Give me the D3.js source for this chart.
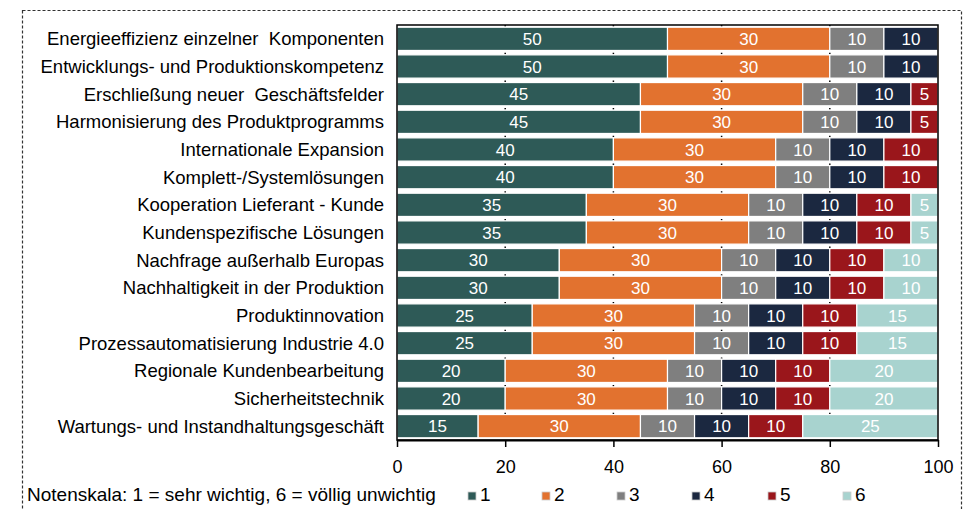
<!DOCTYPE html>
<html>
<head>
<meta charset="utf-8">
<script src="https://cdn.jsdelivr.net/npm/d3@7/dist/d3.min.js"></script>
<style>
  body { margin: 0; background: #fff; }
  text { font-family: "Liberation Sans", Arial, sans-serif; }
</style>
</head>
<body>
<div id="chart"></div>
<script>
// Themen und Notenverteilung (Prozent)
var categories = [
  "Energieeffizienz einzelner  Komponenten",
  "Entwicklungs- und Produktionskompetenz",
  "Erschließung neuer  Geschäftsfelder",
  "Harmonisierung des Produktprogramms",
  "Internationale Expansion",
  "Komplett-/Systemlösungen",
  "Kooperation Lieferant - Kunde",
  "Kundenspezifische Lösungen",
  "Nachfrage außerhalb Europas",
  "Nachhaltigkeit in der Produktion",
  "Produktinnovation",
  "Prozessautomatisierung Industrie 4.0",
  "Regionale Kundenbearbeitung",
  "Sicherheitstechnik",
  "Wartungs- und Instandhaltungsgeschäft"
];
var note1 = [50, 50, 45, 45, 40, 40, 35, 35, 30, 30, 25, 25, 20, 20, 15];
var note2 = [30, 30, 30, 30, 30, 30, 30, 30, 30, 30, 30, 30, 30, 30, 30];
var note3 = [10, 10, 10, 10, 10, 10, 10, 10, 10, 10, 10, 10, 10, 10, 10];
var note4 = [10, 10, 10, 10, 10, 10, 10, 10, 10, 10, 10, 10, 10, 10, 10];
var note5 = [0, 0, 5, 5, 10, 10, 10, 10, 10, 10, 10, 10, 10, 10, 10];
var note6 = [0, 0, 0, 0, 0, 0, 5, 5, 10, 10, 15, 15, 20, 20, 25];
var seriesNames = ["1", "2", "3", "4", "5", "6"];
var xTicks = [0, 20, 40, 60, 80, 100];
var legendTitle = "Notenskala: 1 = sehr wichtig, 6 = völlig unwichtig";

var colors = ["#2e5a57", "#e2722f", "#7f7f7f", "#1b2840", "#9a161b", "#a8d3cf"];
var allSeries = [note1, note2, note3, note4, note5, note6];

var width = 963, height = 509;
var plot = { left: 397, right: 938, top: 25, bottom: 440 };

var svg = d3.select("#chart").append("svg")
  .attr("width", width).attr("height", height);

// gestrichelter Rahmen
svg.append("rect")
  .attr("x", 22.5).attr("y", 10.5)
  .attr("width", 939).attr("height", 520)
  .attr("fill", "none").attr("stroke", "#333")
  .attr("stroke-width", 1.2).attr("stroke-dasharray", "3,2");

var x = d3.scaleLinear().domain([0, 100]).range([plot.left, plot.right]);
var y = d3.scaleBand().domain(categories).range([plot.top, plot.bottom]).paddingInner(0.16).paddingOuter(0.08);

// gridlines (gepunktet)
svg.append("g").selectAll("line")
  .data(xTicks.slice(1, -1))
  .enter().append("line")
  .attr("x1", function(d) { return x(d); }).attr("x2", function(d) { return x(d); })
  .attr("y1", plot.top).attr("y2", plot.bottom)
  .attr("stroke", "#000").attr("stroke-width", 1.5)
  .attr("stroke-dasharray", "1.5,26.2");

var stackData = categories.map(function(c, i) {
  var o = { cat: c };
  seriesNames.forEach(function(s, j) { o[s] = allSeries[j][i]; });
  return o;
});
var stacked = d3.stack().keys(seriesNames)(stackData);

var layers = svg.append("g").selectAll("g")
  .data(stacked).enter().append("g")
  .attr("fill", function(d, i) { return colors[i]; });

layers.selectAll("rect")
  .data(function(d) { return d.filter(function(p) { return p[1] - p[0] > 0; }); })
  .enter().append("rect")
  .attr("x", function(d) { return x(d[0]); })
  .attr("width", function(d) { return x(d[1]) - x(d[0]); })
  .attr("y", function(d) { return y(d.data.cat); })
  .attr("height", y.bandwidth())
  .attr("stroke", "#fff").attr("stroke-width", 1.2);

layers.selectAll("text")
  .data(function(d) { return d.filter(function(p) { return p[1] - p[0] > 0; }); })
  .enter().append("text")
  .attr("x", function(d) { return (x(d[0]) + x(d[1])) / 2; })
  .attr("y", function(d) { return y(d.data.cat) + y.bandwidth() / 2 + 6; })
  .attr("text-anchor", "middle")
  .attr("fill", "#fff")
  .style("font-size", "17px")
  .text(function(d) { return d[1] - d[0]; });

// Plotrahmen
svg.append("rect")
  .attr("x", plot.left).attr("y", plot.top)
  .attr("width", plot.right - plot.left).attr("height", plot.bottom - plot.top)
  .attr("fill", "none").attr("stroke", "#000").attr("stroke-width", 1.5);

// Kategorien
svg.append("g").selectAll("text")
  .data(categories).enter().append("text")
  .attr("x", 384)
  .attr("y", function(d) { return y(d) + y.bandwidth() / 2 + 6.5; })
  .attr("text-anchor", "end")
  .attr("fill", "#000")
  .style("font-size", "18.5px")
  .style("white-space", "pre")
  .text(function(d) { return d; });

// x-Achse
var xAxis = svg.append("g")
  .attr("transform", "translate(0," + plot.bottom + ")")
  .call(d3.axisBottom(x).tickValues(xTicks).tickSize(7).tickSizeOuter(0));
xAxis.select(".domain").attr("stroke", "#000").attr("stroke-width", 2);
xAxis.selectAll(".tick line").attr("stroke", "#000").attr("stroke-width", 1.5);
xAxis.selectAll(".tick text")
  .attr("y", 20)
  .style("font-size", "18px").style("font-family", "'Liberation Sans', Arial, sans-serif")
  .attr("fill", "#000");

// Legende
svg.append("text")
  .attr("x", 27).attr("y", 501)
  .style("font-size", "19px")
  .attr("fill", "#000")
  .text(legendTitle);

var legendX = [468, 542, 617, 692, 768, 843];
var leg = svg.append("g").selectAll("g")
  .data(seriesNames).enter().append("g")
  .attr("transform", function(d, i) { return "translate(" + legendX[i] + ",0)"; });
leg.append("rect")
  .attr("x", 0).attr("y", 492).attr("width", 8).attr("height", 8)
  .attr("fill", function(d, i) { return colors[i]; })
  .attr("stroke", "#ccc").attr("stroke-width", 0.8);
leg.append("text")
  .attr("x", 12).attr("y", 501)
  .style("font-size", "19px")
  .attr("fill", "#000")
  .text(function(d) { return d; });
</script>
</body>
</html>
